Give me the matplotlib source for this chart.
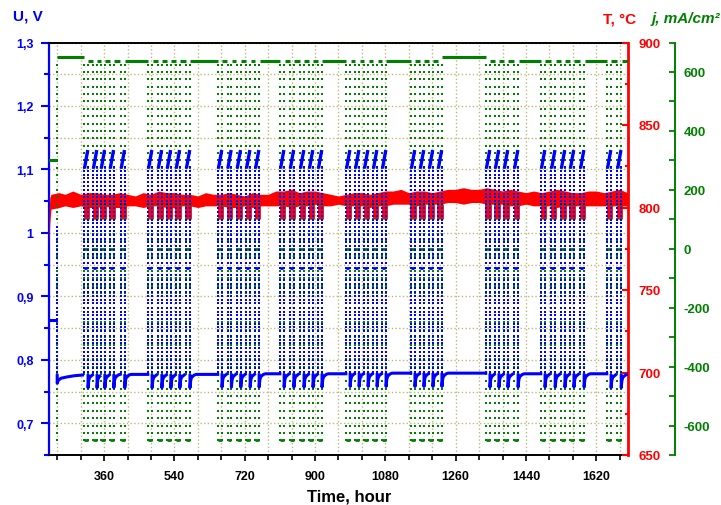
import numpy as np
import matplotlib.pyplot as plt
from matplotlib.ticker import MultipleLocator, FuncFormatter

plt.rcParams['font.family'] = ['Liberation Sans', 'DejaVu Sans']
plt.rcParams['axes.unicode_minus'] = False

BLUE = '#0000ff'
RED = '#ff0000'
GREEN = '#008000'

# ---- data ----
# centre (hour) of every reversible cycle, grouped by test block
cycles = [
    [314, 337, 357, 380, 408],
    [478, 503, 526, 549, 575],
    [657, 681, 705, 729, 752],
    [816, 841, 867, 890, 913],
    [985, 1008, 1031, 1054, 1077],
    [1151, 1174, 1197, 1220],
    [1343, 1366, 1389, 1415],
    [1484, 1510, 1535, 1558, 1584],
    [1653, 1679],
]
half_win = 5

# start-up period
start_t = [219, 238]
start_u = [0.862, 0.862]
start_j = [300, 300]
first_sweep = 240

# constant load current (top line), level valid from given hour
load_from = [240, 305, 1225, 1338]
load_j = [652, 637, 652, 637]

# current steps of a polarisation sweep and the cell voltage at each step
j_steps = [625, 600, 575, 550, 525, 500, 475, 450, 425, 400, 375, 350, 325,
           300, 275, 250, 225, 200, 175, 150, 125, 100, 75, 50, 25, 0,
           -25, -50, -75, -100, -125, -150, -175, -200, -225, -250, -275,
           -300, -325, -350, -375, -400, -425, -450, -475, -500, -525, -550,
           -575, -600, -625, -650]
u_steps = [0.781, 0.787, 0.793, 0.800, 0.806, 0.813, 0.819, 0.826, 0.832,
           0.838, 0.845, 0.851, 0.857, 0.864, 0.870, 0.876, 0.882, 0.889,
           0.895, 0.901, 0.907, 0.913, 0.920, 0.926, 0.933, 0.944,
           0.953, 0.960, 0.967, 0.973, 0.979, 0.985, 0.991, 0.997, 1.003,
           1.009, 1.015, 1.021, 1.027, 1.033, 1.039, 1.045, 1.050, 1.056,
           1.062, 1.068, 1.074, 1.080, 1.086, 1.092, 1.098, 1.104]

u_ocv = 0.944
u_hold = [1.104, 1.128]
j_hold = -650

# run-in of the fuel-cell voltage after the first sweep
runin_t = [240, 240, 243, 250, 265, 285, 305]
runin_u = [0.775, 0.763, 0.768, 0.771, 0.773, 0.775, 0.776]

# fuel-cell voltage plateau after each block
block_u = [0.777, 0.777, 0.778, 0.778, 0.779, 0.779, 0.778, 0.778, 0.777]

# recovery of voltage after a cycle (hours after, offset from plateau)
rec_dt = [0, 0, 1, 2, 4, 7, 11, 16]
rec_du = [-0.002, -0.021, -0.014, -0.009, -0.005, -0.003, -0.001, 0.0]

# temperature band
T_t = [219, 221, 224, 245, 260, 280, 300, 320, 340, 360, 380, 400, 420, 440,
       460, 480, 500, 520, 540, 560, 580, 600, 620, 640, 660, 680, 700, 720,
       740, 760, 780, 800, 820, 840, 860, 880, 900, 920, 940, 960, 980,
       1000, 1020, 1040, 1060, 1080, 1100, 1120, 1140, 1160, 1180, 1200,
       1220, 1240, 1260, 1280, 1300, 1320, 1340, 1360, 1380, 1400, 1420,
       1440, 1460, 1480, 1500, 1520, 1540, 1560, 1580, 1600, 1620, 1640,
       1660, 1680, 1700]
T_hi = [796, 806, 808, 809, 808, 810, 808, 809, 809, 808, 808, 809, 808, 807,
        809, 808, 810, 809, 809, 808, 808, 807, 809, 808, 808, 809, 808, 807,
        809, 808, 808, 810, 810, 811, 809, 810, 810, 809, 808, 807, 808,
        809, 809, 808, 809, 810, 810, 811, 809, 810, 810, 809,
        810, 811, 811, 812, 811, 811, 812, 811, 810, 811, 810,
        809, 810, 809, 810, 811, 810, 809, 809, 810, 810, 809,
        810, 811, 809]
T_lo = [776, 790, 799, 800, 801, 800, 801, 800, 800, 801, 800, 800, 801, 801,
        800, 801, 801, 800, 800, 801, 801, 800, 801, 801, 801, 800, 800, 801,
        800, 801, 801, 801, 801, 800, 801, 801, 802, 801, 801, 802, 801,
        801, 801, 800, 801, 801, 802, 802, 802, 801, 802, 802,
        802, 803, 803, 802, 803, 803, 802, 802, 802, 801, 801,
        802, 801, 801, 801, 800, 801, 801, 801, 801, 801, 801,
        801, 801, 801]
T_dip = 793

# ---- figure ----
fig = plt.figure(figsize=(7.21, 5.06), dpi=100)
L, R, B, T = 49 / 721, 627.5 / 721, 1 - 456 / 506, 1 - 43.5 / 506
ax = fig.add_axes([L, B, R - L, T - B])
axT = ax.twinx()
axJ = ax.twinx()
axU = ax.twinx()
ax.set_zorder(0)
axT.set_zorder(1)
axJ.set_zorder(2)
axU.set_zorder(3)
for a in (axT, axJ, axU):
    a.patch.set_visible(False)

ax.set_xlim(219, 1700)
ax.set_ylim(0.65, 1.3)
axU.set_ylim(0.65, 1.3)
axT.set_ylim(650, 900)
axJ.set_ylim(-700, 700)

# base axis: grid, U scale, x scale
ax.xaxis.set_major_locator(MultipleLocator(180))
ax.xaxis.set_minor_locator(MultipleLocator(60))
ax.yaxis.set_major_locator(MultipleLocator(0.1))
ax.yaxis.set_minor_locator(MultipleLocator(0.05))
ax.yaxis.set_major_formatter(FuncFormatter(lambda v, p: f'{v:g}'.replace('.', ',')))
ax.grid(True, which='both', linestyle=':', color='#bdb87f', linewidth=1.0)
ax.tick_params(axis='x', which='both', direction='out', color='black', width=1.2,
               labelsize=9, pad=7)
ax.tick_params(axis='x', which='major', length=4)
ax.tick_params(axis='x', which='minor', length=3.5)
ax.tick_params(axis='y', which='both', direction='out', color=BLUE, width=1.5,
               labelcolor=BLUE, labelsize=9, pad=5)
ax.tick_params(axis='y', which='major', length=6)
ax.tick_params(axis='y', which='minor', length=3.5)
for lab in ax.get_xticklabels() + ax.get_yticklabels():
    lab.set_fontweight('bold')
ax.spines['left'].set_color(BLUE)
ax.spines['left'].set_linewidth(1.6)
ax.spines['top'].set_linewidth(1.4)
ax.spines['bottom'].set_linewidth(1.4)
ax.spines['right'].set_visible(False)

# temperature axis
axT.yaxis.set_major_locator(MultipleLocator(50))
axT.yaxis.set_minor_locator(MultipleLocator(25))
axT.tick_params(axis='y', which='both', direction='in', color=RED, width=1.5,
                labelcolor=RED, labelsize=9.5, pad=8)
axT.tick_params(axis='y', which='major', length=4)
axT.tick_params(axis='y', which='minor', length=2.5)
for lab in axT.get_yticklabels():
    lab.set_fontweight('bold')
for s in ('left', 'top', 'bottom'):
    axT.spines[s].set_visible(False)
axT.spines['right'].set_color(RED)
axT.spines['right'].set_linewidth(2.0)

# current density axis
axJ.spines['right'].set_position(('axes', 1 + (675 - 627.5) / (627.5 - 49)))
axJ.yaxis.set_major_locator(MultipleLocator(200))
axJ.yaxis.set_minor_locator(MultipleLocator(100))
axJ.tick_params(axis='y', which='both', direction='in', color=GREEN, width=1.3,
                labelcolor=GREEN, labelsize=9.5, pad=6, length=4)
for lab in axJ.get_yticklabels():
    lab.set_fontweight('bold')
for s in ('left', 'top', 'bottom'):
    axJ.spines[s].set_visible(False)
axJ.spines['right'].set_color(GREEN)
axJ.spines['right'].set_linewidth(1.4)

axU.axis('off')


def load_at(t):
    lvl = load_j[0]
    for f, v in zip(load_from, load_j):
        if t >= f:
            lvl = v
    return lvl


mk = dict(marker='s', markersize=1.7, linestyle='none', markeredgewidth=0)

# start-up
axU.plot(start_t, start_u, color=BLUE, lw=2.2)
axJ.plot(start_t, start_j, color=GREEN, lw=2.2)
axU.plot([first_sweep] * 36, u_steps[:36], color=BLUE, **mk)
axJ.plot([first_sweep] * len(j_steps), j_steps, color=GREEN, **mk)
axU.plot(runin_t, runin_u, color=BLUE, lw=2.2)

# all cycles, in time order
flat = [(g, c) for g, blk in enumerate(cycles) for c in blk]
prev_end = first_sweep
for k, (g, c) in enumerate(flat):
    s, e = c - half_win, c + half_win
    # constant-load segment before this cycle
    axJ.plot([prev_end, s - 1], [load_at(prev_end)] * 2, color=GREEN, lw=2.2,
             solid_capstyle='butt')
    # sweep columns
    for xc in (s, e):
        axU.plot([xc] * len(u_steps), u_steps, color=BLUE, **mk)
        axJ.plot([xc] * len(j_steps), j_steps, color=GREEN, **mk)
    # open circuit and electrolysis hold
    axU.plot([s, e - 2], [u_ocv, u_ocv], color=BLUE, lw=2.0, solid_capstyle='butt')
    axJ.plot([s, e], [0, 0], color=GREEN, lw=2.0, solid_capstyle='butt')
    axJ.plot([s, e], [j_hold, j_hold], color=GREEN, lw=2.0, solid_capstyle='butt')
    axU.plot([s + 1.5, e - 1.5], u_hold, color=BLUE, lw=2.4)
    # temperature dips
    axT.vlines([s + 1, c + 1, e - 0.5], T_dip, 802, color=RED, lw=2.0)
    # voltage recovery after the cycle
    nxt = flat[k + 1][1] - half_win if k + 1 < len(flat) else 1700
    base = block_u[g]
    rt = [e + d for d in rec_dt if e + d < nxt - 1]
    ru = [base + du for d, du in zip(rec_dt, rec_du) if e + d < nxt - 1]
    if k + 1 >= len(flat) or flat[k + 1][0] != g:
        rt.append(nxt - 1)
        ru.append(base)
    axU.plot(rt, ru, color=BLUE, lw=2.2)
    prev_end = e + 1
axJ.plot([prev_end, 1700], [load_at(prev_end)] * 2, color=GREEN, lw=2.2,
         solid_capstyle='butt')

# temperature
axT.fill_between(T_t, T_lo, T_hi, color=RED, lw=0)

# labels
fig.text(0.485, 0.018, 'Time, hour', ha='center', va='center', fontsize=12,
         fontweight='bold')
fig.text(0.039, 0.968, 'U, V', ha='center', va='center', fontsize=11,
         fontweight='bold', color=BLUE)
fig.text(0.859, 0.962, 'T, °C', ha='center', va='center', fontsize=11,
         fontweight='bold', color=RED)
fig.text(0.951, 0.962, 'j, mA/cm²', ha='center', va='center', fontsize=11,
         fontweight='bold', fontstyle='italic', color=GREEN)

fig.savefig('out.png', dpi=100)
